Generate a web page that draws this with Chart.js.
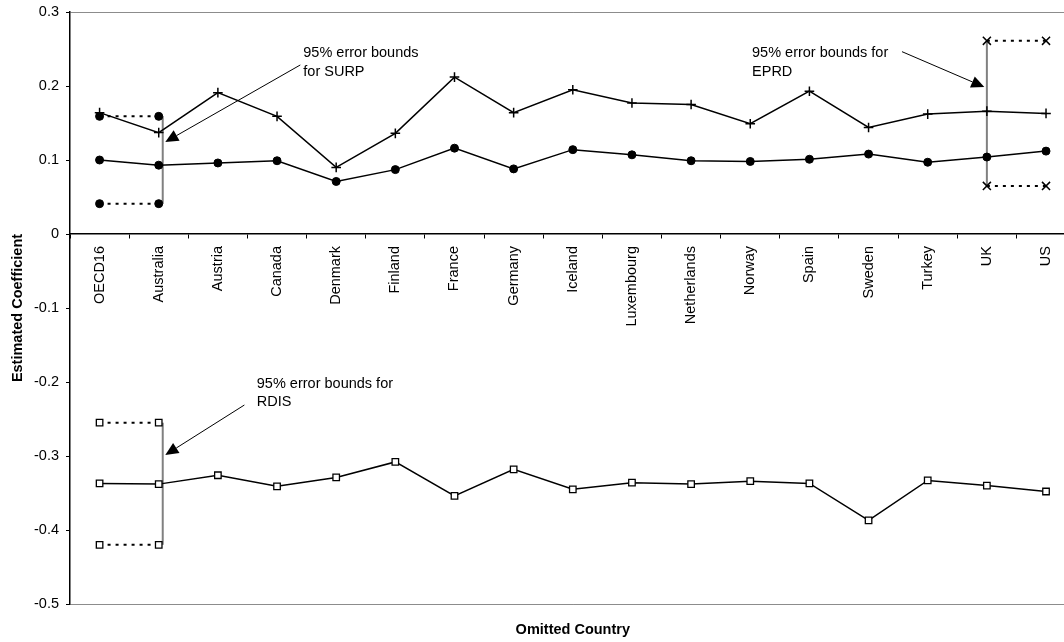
<!DOCTYPE html>
<html><head><meta charset="utf-8">
<script src="https://cdn.jsdelivr.net/npm/chart.js@4/dist/chart.umd.min.js"></script>
<style>html,body{margin:0;padding:0;overflow:hidden;background:#fff;width:1064px;height:642px}canvas{display:block}</style>
</head><body>
<canvas id="c" width="1090" height="642"></canvas>
<script>
const categories = ['OECD16','Australia','Austria','Canada','Denmark','Finland','France','Germany','Iceland','Luxembourg','Netherlands','Norway','Spain','Sweden','Turkey','UK','US'];
const eprd = [0.164,0.137,0.191,0.159,0.090,0.136,0.212,0.164,0.195,0.177,0.175,0.149,0.193,0.144,0.162,0.166,0.163];
const surp = [0.100,0.093,0.096,0.099,0.071,0.087,0.116,0.088,0.114,0.107,0.099,0.098,0.101,0.108,0.097,0.104,0.112];
const rdis = [-0.337,-0.338,-0.326,-0.341,-0.329,-0.308,-0.354,-0.318,-0.345,-0.336,-0.338,-0.334,-0.337,-0.387,-0.333,-0.340,-0.348];
const surpBounds = [0.159, 0.041];
const rdisBounds = [-0.255, -0.420];
const eprdBounds = [0.261, 0.065];
const surpBoundCats = ['OECD16','Australia'];
const rdisBoundCats = ['OECD16','Australia'];
const eprdBoundCats = ['UK','US'];
const yTicks = [0.3,0.2,0.1,0,-0.1,-0.2,-0.3,-0.4,-0.5];

const FONT = '"Liberation Sans", Arial, Helvetica, sans-serif';
Chart.defaults.font.family = FONT;
Chart.defaults.font.size = 14.5;
Chart.defaults.color = '#000';

function boundSeries(v, cats){ return categories.map(c => cats.includes(c) ? v : null); }

// annotation layout (in category-index / value units)
const errorBars = [
  {cat:'Australia', bounds: surpBounds, dx: 4},
  {cat:'Australia', bounds: rdisBounds, dx: 4},
  {cat:'UK', bounds: eprdBounds, dx: 0}
];
const arrows = [
  {from:[3.393, 0.2284], to:[1.111, 0.1243]},
  {from:[13.565, 0.2464], to:[14.957, 0.1986]},
  {from:[2.448, -0.2311], to:[1.111, -0.2986]}
];
const notes = [
  {at:[3.444, 0.2388], lines:['95% error bounds','for SURP']},
  {at:[11.030, 0.2388], lines:['95% error bounds for','EPRD']},
  {at:[2.658, -0.2077], lines:['95% error bounds for','RDIS']}
];

const annotPlugin = {
  id:'annot',
  beforeDatasetsDraw(chart){
    const xs = chart.scales.x, ys = chart.scales.y, ctx = chart.ctx;
    ctx.save();
    ctx.strokeStyle = '#808080'; ctx.lineWidth = 2;
    errorBars.forEach(e => {
      const x = xs.getPixelForValue(categories.indexOf(e.cat)) + e.dx;
      ctx.beginPath();
      ctx.moveTo(x, ys.getPixelForValue(e.bounds[0]));
      ctx.lineTo(x, ys.getPixelForValue(e.bounds[1]));
      ctx.stroke();
    });
    ctx.restore();
  },
  afterDatasetsDraw(chart){
    const xs = chart.scales.x, ys = chart.scales.y, ctx = chart.ctx;
    ctx.save();
    arrows.forEach(a => {
      const x0 = xs.getPixelForValue(a.from[0]), y0 = ys.getPixelForValue(a.from[1]);
      const x1 = xs.getPixelForValue(a.to[0]), y1 = ys.getPixelForValue(a.to[1]);
      const ang = Math.atan2(y1-y0, x1-x0);
      const L = 13, W = 6;
      const bx = x1 - Math.cos(ang)*L, by = y1 - Math.sin(ang)*L;
      ctx.strokeStyle = '#000'; ctx.lineWidth = 1;
      ctx.beginPath(); ctx.moveTo(x0,y0); ctx.lineTo(bx,by); ctx.stroke();
      ctx.fillStyle = '#000';
      ctx.beginPath();
      ctx.moveTo(x1,y1);
      ctx.lineTo(bx + Math.sin(ang)*W, by - Math.cos(ang)*W);
      ctx.lineTo(bx - Math.sin(ang)*W, by + Math.cos(ang)*W);
      ctx.closePath(); ctx.fill();
    });
    ctx.fillStyle = '#000';
    ctx.font = '14.5px ' + FONT;
    ctx.textAlign = 'left'; ctx.textBaseline = 'alphabetic';
    notes.forEach(n => {
      const x = xs.getPixelForValue(n.at[0]), y = ys.getPixelForValue(n.at[1]);
      n.lines.forEach((t,i) => ctx.fillText(t, x, y + i*18.4));
    });
    ctx.restore();
  }
};

const base = {borderColor:'#000', pointBorderColor:'#000', tension:0, spanGaps:false};
const dotted = {borderDash:[3,5], borderWidth:2};

new Chart(document.getElementById('c'), {
  type:'line',
  data:{
    labels: categories,
    datasets:[
      {...base, label:'EPRD', data: eprd, borderWidth:1.5, pointStyle:'cross', pointRadius:4.8, pointBorderWidth:1.5},
      {...base, label:'SURP', data: surp, borderWidth:1.5, pointStyle:'circle', pointRadius:4, pointBorderWidth:1, pointBackgroundColor:'#000'},
      {...base, label:'RDIS', data: rdis, borderWidth:1.5, pointStyle:'rect', pointRadius:4.6, pointBorderWidth:1.3, pointBackgroundColor:'#fff'},
      {...base, ...dotted, label:'SURP upper', data: boundSeries(surpBounds[0], surpBoundCats), pointStyle:'circle', pointRadius:4, pointBorderWidth:1, pointBackgroundColor:'#000'},
      {...base, ...dotted, label:'SURP lower', data: boundSeries(surpBounds[1], surpBoundCats), pointStyle:'circle', pointRadius:4, pointBorderWidth:1, pointBackgroundColor:'#000'},
      {...base, ...dotted, label:'RDIS upper', data: boundSeries(rdisBounds[0], rdisBoundCats), pointStyle:'rect', pointRadius:4.6, pointBorderWidth:1.3, pointBackgroundColor:'#fff'},
      {...base, ...dotted, label:'RDIS lower', data: boundSeries(rdisBounds[1], rdisBoundCats), pointStyle:'rect', pointRadius:4.6, pointBorderWidth:1.3, pointBackgroundColor:'#fff'},
      {...base, ...dotted, label:'EPRD upper', data: boundSeries(eprdBounds[0], eprdBoundCats), pointStyle:'crossRot', pointRadius:5.7, pointBorderWidth:1.5},
      {...base, ...dotted, label:'EPRD lower', data: boundSeries(eprdBounds[1], eprdBoundCats), pointStyle:'crossRot', pointRadius:5.7, pointBorderWidth:1.5}
    ]
  },
  options:{
    responsive:false, animation:false, devicePixelRatio:1,
    layout:{padding:{left:0, right:14.4, top:12, bottom:0}},
    plugins:{legend:{display:false}, tooltip:{enabled:false}},
    elements:{point:{hoverRadius:0}},
    scales:{
      x:{
        type:'category', offset:true, position:{y:0},
        grid:{offset:true, drawOnChartArea:false, tickLength:4, color:'#000', lineWidth:1},
        border:{color:'#000', width:1.5},
        ticks:{autoSkip:false, minRotation:90, maxRotation:90, padding:8, color:'#000', font:{size:14.5}}
      },
      x2:{
        type:'category', labels: categories, offset:true, position:'bottom',
        grid:{display:false}, border:{display:false}, ticks:{display:false},
        title:{display:true, text:'Omitted Country', color:'#000', font:{size:14.5, weight:'bold'}, padding:{top:0, bottom:3.3}},
        afterFit: s => { s.height = 38; s.paddingLeft = 0; s.paddingRight = 0; }
      },
      y:{
        min:-0.5, max:0.3,
        afterBuildTicks: s => { s.ticks = yTicks.map(v => ({value:v})); },
        ticks:{callback: v => String(Math.round(v*10)/10), padding:7, color:'#000', font:{size:14.5}},
        grid:{
          color: c => (c.tick && (Math.abs(c.tick.value-0.3)<1e-9 || Math.abs(c.tick.value+0.5)<1e-9)) ? '#8c8c8c' : 'rgba(0,0,0,0)',
          tickColor:'#000', tickLength:4, lineWidth:1
        },
        border:{color:'#000', width:1.5},
        title:{display:true, text:'Estimated Coefficient', color:'#000', font:{size:14.5, weight:'bold'}, padding:{top:8.8, bottom:0}},
        afterFit: s => { s.width = 70; s.paddingTop = 0; s.paddingBottom = 0; }
      }
    }
  },
  plugins:[annotPlugin]
});
</script>
</body></html>
